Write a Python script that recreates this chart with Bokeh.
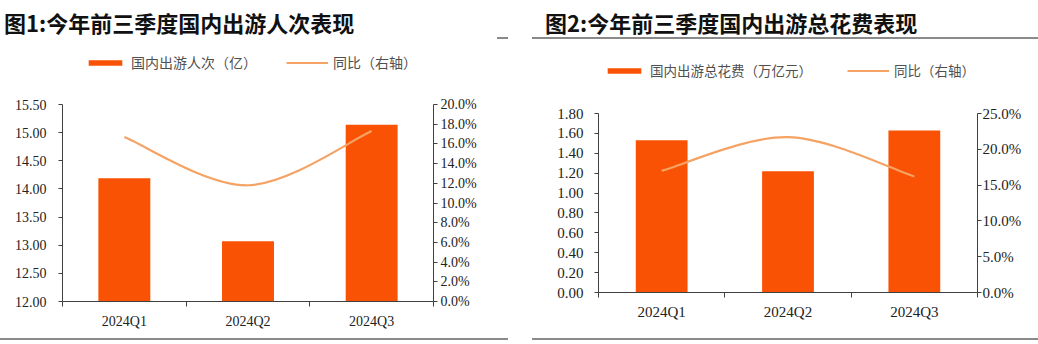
import numpy as np
from bokeh.plotting import figure
from bokeh.models import (Range1d, LinearAxis, FixedTicker, Legend, LegendItem, Div, Spacer,
                          NumeralTickFormatter, CustomJSTickFormatter, ColumnDataSource)
from bokeh.layouts import row, column
from bokeh.embed import file_html
from bokeh.resources import INLINE

quarters = ["2024Q1", "2024Q2", "2024Q3"]
trips = [14.19, 13.07, 15.14]          # 国内出游人次（亿）
trips_yoy = [0.167, 0.118, 0.173]      # 同比
spend = [1.53, 1.22, 1.63]             # 国内出游总花费（万亿元）
spend_yoy = [0.170, 0.217, 0.162]      # 同比

title1 = "图1:今年前三季度国内出游人次表现"
title2 = "图2:今年前三季度国内出游总花费表现"
legend1 = ["国内出游人次（亿）", "同比（右轴）"]
legend2 = ["国内出游总花费（万亿元）", "同比（右轴）"]

BAR = "#FA5205"
LINE = "#F5A364"
AXIS = "#404040"
RULE = "#8a8a8a"
TICK_FONT = "Liberation Serif"
CJK = "Noto Sans CJK SC"

PLOT_TOP = 39      # canvas y where the chart figures start
FRAME_TOP = 49     # canvas y of plot frame top
PLOT_H = 299


def smooth_segments(xs, ys):
    xs = np.asarray(xs, float); ys = np.asarray(ys, float)
    n = len(xs)
    seg = dict(x0=[], y0=[], x1=[], y1=[], cx0=[], cy0=[], cx1=[], cy1=[])
    for i in range(n - 1):
        p = max(i - 1, 0); q = min(i + 2, n - 1)
        seg["x0"].append(xs[i]); seg["y0"].append(ys[i])
        seg["x1"].append(xs[i + 1]); seg["y1"].append(ys[i + 1])
        seg["cx0"].append(xs[i] + (xs[i + 1] - xs[p]) / 6)
        seg["cy0"].append(ys[i] + (ys[i + 1] - ys[p]) / 6)
        seg["cx1"].append(xs[i + 1] - (xs[q] - xs[i]) / 6)
        seg["cy1"].append(ys[i + 1] - (ys[q] - ys[i]) / 6)
    return seg


def ext_range(lo, hi, px_top, px_bot):
    # extend the top so the legend can sit inside the frame above the axis
    upp = (hi - lo) / (px_bot - px_top)
    return Range1d(lo, hi + (px_top - FRAME_TOP) * upp)


def style_axis(ax, standoff, size):
    ax.axis_line_color = AXIS
    ax.major_tick_line_color = AXIS
    ax.minor_tick_line_color = None
    ax.major_tick_out = 4
    ax.major_tick_in = 0
    ax.major_label_text_font = TICK_FONT
    ax.major_label_text_font_size = size
    ax.major_label_text_color = "#222222"
    ax.major_label_standoff = standoff


def make_chart(bl, fw, br, px_top, px_bot, vals, yoy, ylo, yhi, ystep, rhi, rstep,
               labels, lx, spacing, leg_bottom, leg_size, bar_w, lstand, rstand, xstand,
               ysize, xsize):
    n = len(quarters)
    xc = np.arange(n) + 0.5
    fh = px_bot - FRAME_TOP
    p = figure(frame_width=fw, frame_height=fh, x_range=Range1d(0, n),
               y_range=ext_range(ylo, yhi, px_top, px_bot), title=None,
               output_backend="svg", toolbar_location=None,
               min_border_left=bl, min_border_right=br,
               min_border_top=FRAME_TOP - PLOT_TOP,
               min_border_bottom=PLOT_TOP + PLOT_H - px_bot, margin=0)
    p.outline_line_color = None
    p.xgrid.visible = False
    p.ygrid.visible = False
    p.extra_y_ranges = {"pct": ext_range(0, rhi, px_top, px_bot)}

    bars = p.vbar(x=xc, top=vals, width=bar_w, bottom=ylo, fill_color=BAR, line_color=None)
    seg = smooth_segments(xc, yoy)
    p.bezier(source=ColumnDataSource(seg), x0="x0", y0="y0", x1="x1", y1="y1",
             cx0="cx0", cy0="cy0", cx1="cx1", cy1="cy1",
             line_color=LINE, line_width=2.2, y_range_name="pct")
    leg_line = p.line(x=[np.nan], y=[np.nan], line_color=LINE, line_width=2.2, y_range_name="pct")

    xa = p.xaxis[0]
    style_axis(xa, xstand, xsize)
    xa.ticker = FixedTicker(ticks=list(xc), minor_ticks=list(range(n + 1)))
    xa.formatter = CustomJSTickFormatter(args=dict(labels=quarters),
                                         code="return labels[Math.floor(tick)]")
    xa.major_tick_line_color = None
    xa.minor_tick_line_color = AXIS
    xa.minor_tick_out = 5
    xa.minor_tick_in = 0

    ya = p.yaxis[0]
    style_axis(ya, lstand, ysize)
    ya.bounds = (ylo, yhi)
    ya.formatter = NumeralTickFormatter(format="0.00")
    ya.ticker = FixedTicker(ticks=list(np.round(np.arange(ylo, yhi + 1e-9, ystep), 4)))

    ra = LinearAxis(y_range_name="pct")
    style_axis(ra, rstand, ysize)
    ra.bounds = (0, rhi)
    ra.formatter = NumeralTickFormatter(format="0.0%")
    ra.ticker = FixedTicker(ticks=list(np.round(np.arange(0, rhi + 1e-9, rstep), 4)))
    p.add_layout(ra, "right")

    legend = Legend(items=[LegendItem(label=labels[0], renderers=[bars]),
                           LegendItem(label=labels[1], renderers=[leg_line])],
                    orientation="horizontal", location=(lx, px_bot - leg_bottom),
                    glyph_width=42, glyph_height=7, label_standoff=5, spacing=spacing,
                    padding=0, margin=0, border_line_color=None, background_fill_alpha=0,
                    label_text_font=CJK, label_text_font_size=leg_size,
                    label_text_color="#505050", label_height=14)
    p.add_layout(legend, "center")
    return p


def title_div(text, width, pad):
    html = ('<div style="font-family:\'Noto Sans CJK SC\';font-weight:bold;font-size:22px;'
            'color:#111;line-height:44px;white-space:nowrap;padding-left:%dpx">%s</div>' % (pad, text))
    return Div(text=html, width=width, height=PLOT_TOP - 2, margin=0,
               styles={"overflow": "visible"})


def rule(width):
    return Div(text="", width=width, height=2, margin=0,
               styles={"background-color": RULE})


def gap(width, height):
    return Spacer(width=width, height=height, margin=0)


p1 = make_chart(62, 371, 87, 104, 301, trips, trips_yoy, 12.0, 15.5, 0.5, 0.20, 0.02,
                legend1, 22, 29, 72, "14px", 0.42, 12, 3, 7, "14px", "14px")
p2 = make_chart(78, 379, 61, 113, 292, spend, spend_yoy, 0.0, 1.8, 0.2, 0.25, 0.05,
                legend2, 5, 35, 80, "13.5px", 0.41, 11, 1, 6, "15px", "15px")

top = row(title_div(title1, 520, 4), title_div(title2, 518, 25), margin=0)
underline = row(gap(497, 2), rule(11), gap(24, 2), rule(506), margin=0)
bottom = row(rule(508), gap(24, 2), rule(506), margin=0)

layout = column(top, underline, row(p1, p2, margin=0), bottom, margin=0)
open("out.html", "w").write(file_html(layout, INLINE))
